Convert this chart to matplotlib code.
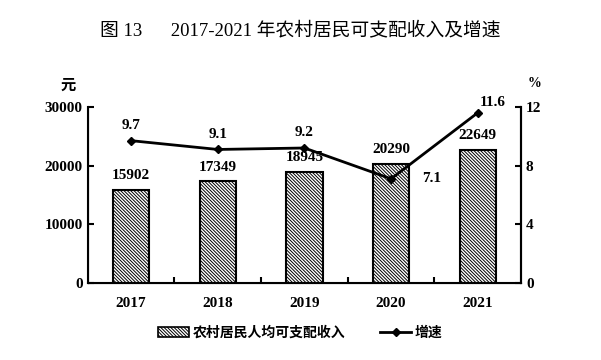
import matplotlib
matplotlib.use("Agg")
import matplotlib.pyplot as plt
from matplotlib.lines import Line2D
from matplotlib.patches import Patch

years = ["2017", "2018", "2019", "2020", "2021"]
income = [15902, 17349, 18945, 20290, 22649]
growth = [9.7, 9.1, 9.2, 7.1, 11.6]

num_font = ["Liberation Serif", "DejaVu Serif"]
cjk_font = ["Noto Sans CJK SC", "DejaVu Sans"]
title_font = ["Liberation Serif", "Noto Sans CJK SC"]
plt.rcParams["hatch.linewidth"] = 0.7
HATCH = "\\" * 10

fig = plt.figure(figsize=(6.01, 3.6), dpi=100)
ax = fig.add_axes([0.146, 0.214, 0.721, 0.489])
x = list(range(len(years)))
ax.bar(x, income, width=0.42, facecolor="white", edgecolor="black",
       linewidth=1.5, hatch=HATCH, zorder=2)
for xi, v in zip(x, income):
    ax.text(xi, v + 1300, str(v), ha="center", va="bottom", family=num_font,
            fontsize=11, fontweight="bold")
ax.set_xlim(-0.5, 4.5)
ax.set_ylim(0, 30000)
ax.set_yticks([0, 10000, 20000, 30000])
ax.set_xticks(x)
ax.set_xticklabels(years, family=num_font, fontsize=11, fontweight="bold")
ax.set_xticks([0.5, 1.5, 2.5, 3.5], minor=True)
ax.tick_params(axis="x", which="major", length=0, pad=10)
ax.tick_params(axis="x", which="minor", direction="in", length=4, width=1.5)
ax.tick_params(axis="y", direction="in", length=4, width=1.5)
for lab in ax.get_yticklabels():
    lab.set_family(num_font)
    lab.set_fontsize(11)
    lab.set_fontweight("bold")
ax.spines["top"].set_visible(False)
for s in ["left", "bottom", "right"]:
    ax.spines[s].set_linewidth(1.5)

ax2 = ax.twinx()
ax2.plot(x, growth, color="black", linewidth=2, marker="D", markersize=4, zorder=3)
ax2.set_ylim(0, 12)
ax2.set_yticks([0, 4, 8, 12])
ax2.tick_params(axis="y", direction="in", length=4, width=1.5)
for lab in ax2.get_yticklabels():
    lab.set_family(num_font)
    lab.set_fontsize(11)
    lab.set_fontweight("bold")
ax2.spines["top"].set_visible(False)
ax2.spines["right"].set_linewidth(1.5)
for xi, g in zip(x, growth):
    if g == 7.1:
        ax2.text(xi + 0.47, g, f"{g}", ha="center", va="center", family=num_font,
                 fontsize=11, fontweight="bold")
    elif g == 11.6:
        ax2.text(xi + 0.17, g + 0.25, f"{g}", ha="center", va="bottom",
                 family=num_font, fontsize=11, fontweight="bold")
    else:
        ax2.text(xi, g + 0.6, f"{g}", ha="center", va="bottom", family=num_font,
                 fontsize=11, fontweight="bold")

fig.text(0.113, 0.765, "元", family=cjk_font, fontsize=11, fontweight="bold",
         ha="center", va="center")
fig.text(0.890, 0.768, "%", family=num_font, fontsize=10, fontweight="bold",
         ha="center", va="center")
fig.text(0.5, 0.915, "图 13      2017-2021 年农村居民可支配收入及增速",
         family=title_font, fontsize=13.5, ha="center", va="center")

handles = [Patch(facecolor="white", edgecolor="black", hatch=HATCH, linewidth=1.2),
           Line2D([0], [0], color="black", linewidth=2, marker="D", markersize=4)]
leg = fig.legend(handles, ["农村居民人均可支配收入", "增速"], loc="center",
                 bbox_to_anchor=(0.5, 0.075), ncol=2, frameon=False,
                 prop={"family": cjk_font, "size": 10, "weight": "bold"},
                 handlelength=2.2, handleheight=0.8, columnspacing=2.5,
                 handletextpad=0.3)

fig.savefig("out.png", dpi=100)
